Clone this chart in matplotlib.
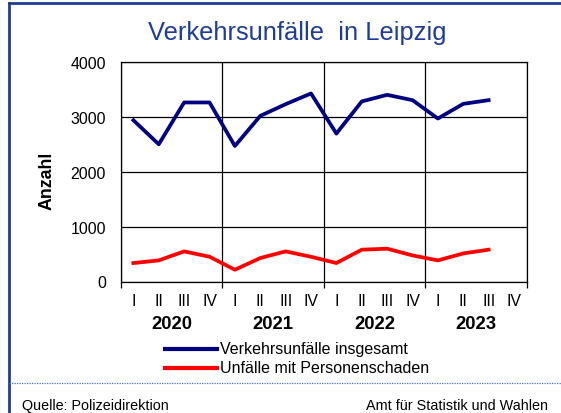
import matplotlib
matplotlib.use("Agg")
import matplotlib.pyplot as plt
from matplotlib.lines import Line2D
import matplotlib.transforms as mtransforms

plt.rcParams['font.family'] = ['Liberation Sans', 'DejaVu Sans']

# Quartalswerte 2020 Q1 .. 2023 Q3
years = ['2020', '2021', '2022', '2023']
quarters = ['I', 'II', 'III', 'IV']
insgesamt = [2935, 2497, 3258, 3258,
             2466, 3014, 3227, 3422,
             2692, 3277, 3397, 3300,
             2966, 3233, 3300]
personenschaden = [336, 384, 548, 451,
                   214, 427, 548, 450,
                   336, 579, 597, 475,
                   384, 511, 579]

W, H = 561, 414
fig = plt.figure(figsize=(W / 100, H / 100), dpi=100)

def fx(px):
    return px / W

def fy(py):
    return 1 - py / H

blue_frame = '#1f3c9a'

# Rahmen (links und oben), rechts/unten abgeschnitten
fig.add_artist(Line2D([fx(8.5), fx(8.5)], [fy(4), fy(414)], color=blue_frame, lw=2))
fig.add_artist(Line2D([fx(8.5), 1], [fy(4), fy(4)], color=blue_frame, lw=2))
fig.add_artist(Line2D([fx(9), 1], [fy(383.5), fy(383.5)], color='#4a6fc8', lw=0.9,
                      linestyle=(0, (1, 1))))

ax = fig.add_axes([fx(120.7), fy(282.5), fx(526.7) - fx(120.7), fy(62.7) - fy(282.5)])

n = len(years) * len(quarters)
xs1 = [i + 0.5 for i in range(len(insgesamt))]
xs2 = [i + 0.5 for i in range(len(personenschaden))]
ax.plot(xs1, insgesamt, color='#000080', lw=2.7)
ax.plot(xs2, personenschaden, color='#ff0000', lw=2.7)

ax.set_xlim(0, n)
ax.set_ylim(0, 4000)
ax.set_yticks([0, 1000, 2000, 3000, 4000])
ax.set_xticks(range(0, n + 1, 4))
ax.set_xticklabels([])
ax.grid(True, color='black', lw=0.9)
ax.set_axisbelow(True)
ax.tick_params(axis='x', length=4, width=0.9, direction='out')
ax.tick_params(axis='y', length=0, pad=10.6, labelsize=11.4)
for s in ax.spines.values():
    s.set_linewidth(0.9)

fig.text(fx(46.7), fy(180.5), 'Anzahl', rotation=90, ha='center', va='center',
         fontsize=12.8, fontweight='bold')

trans = mtransforms.blended_transform_factory(ax.transData, fig.transFigure)
for i in range(n):
    ax.text(i + 0.5, fy(301.5), quarters[i % 4], transform=trans,
            ha='center', va='center', fontsize=11.4)
for j, yr in enumerate(years):
    ax.text(j * 4 + 2, fy(324.5), yr, transform=trans,
            ha='center', va='center', fontsize=13.3, fontweight='bold')

fig.text(fx(297), fy(33), 'Verkehrsunfälle  in Leipzig', ha='center', va='center',
         fontsize=18.4, color='#1f3c9a')

# Legende
fig.add_artist(Line2D([fx(165), fx(217)], [fy(350), fy(350)], color='#000080', lw=3))
fig.add_artist(Line2D([fx(165), fx(217)], [fy(368.7), fy(368.7)], color='#ff0000', lw=3))
fig.text(fx(220), fy(350), 'Verkehrsunfälle insgesamt', ha='left', va='center', fontsize=11.5)
fig.text(fx(220), fy(368.7), 'Unfälle mit Personenschaden', ha='left', va='center', fontsize=11.5)

fig.text(fx(22.5), fy(406), 'Quelle: Polizeidirektion', ha='left', va='center', fontsize=10.4)
fig.text(fx(548), fy(406), 'Amt für Statistik und Wahlen', ha='right', va='center', fontsize=10.4)

fig.savefig('out.png', dpi=100)
